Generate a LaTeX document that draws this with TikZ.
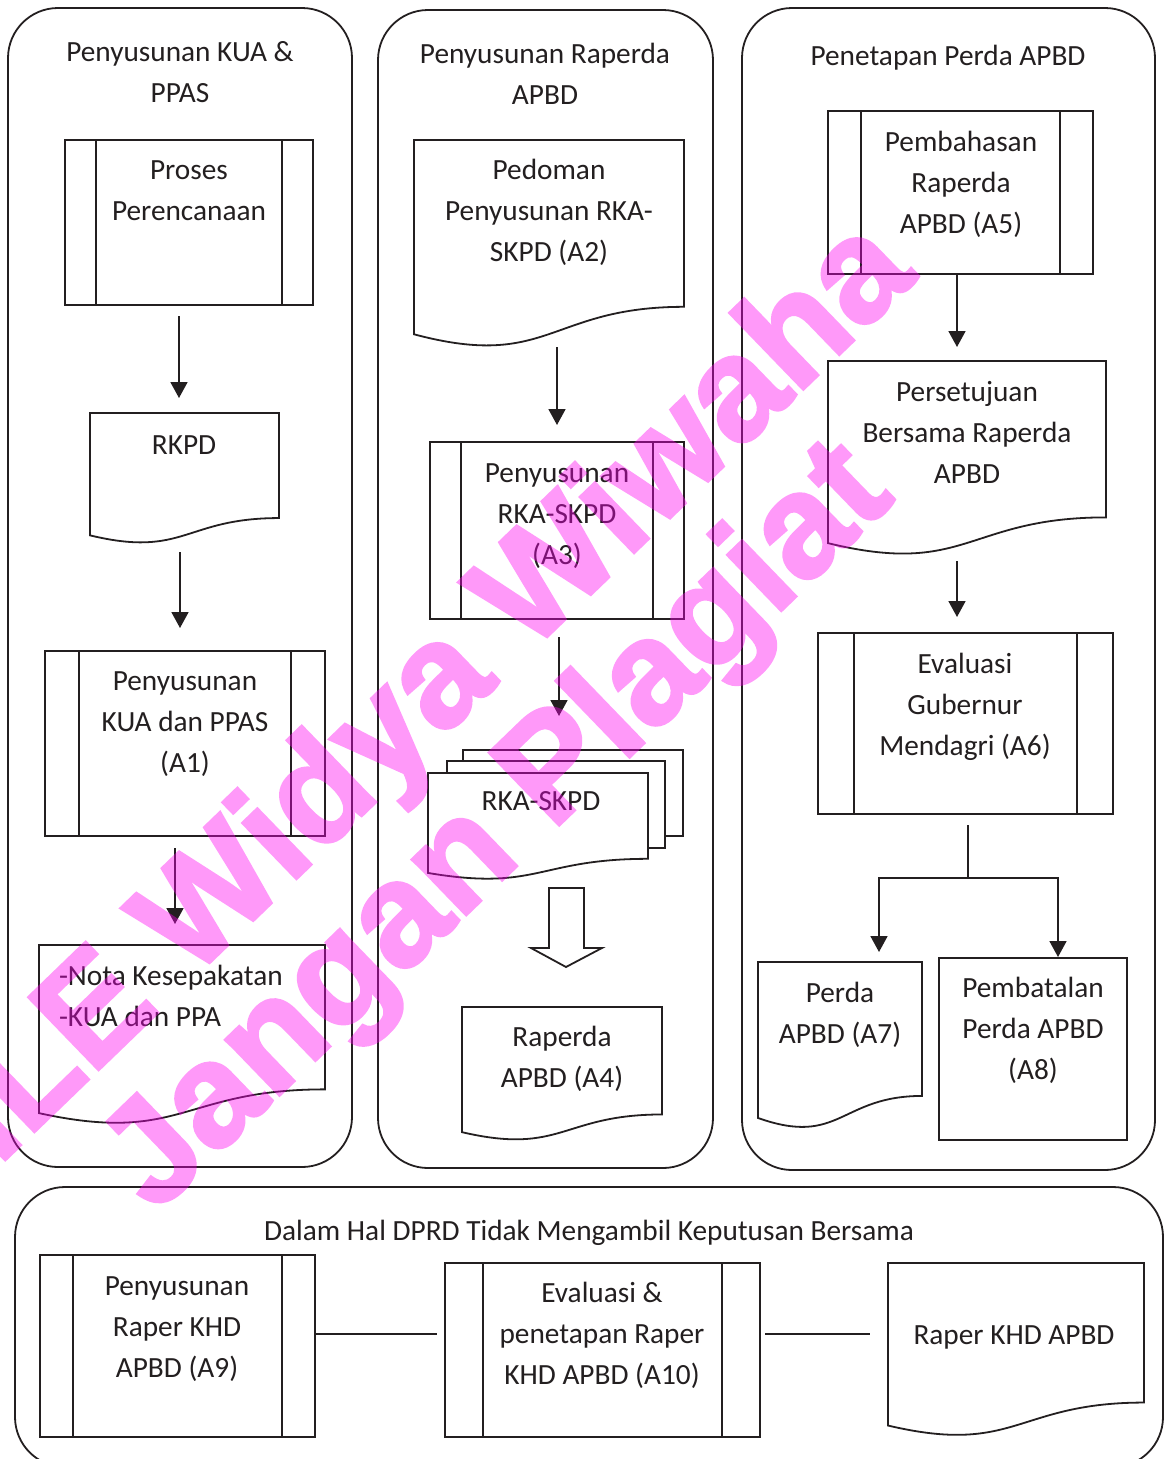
\documentclass[tikz,border=0pt]{standalone}
\usepackage{fontspec}
\setmainfont{Carlito}
\newfontfamily\wmfont{Liberation Sans Bold}[FakeBold=2.2]
\usetikzlibrary{calc,arrows.meta}
\definecolor{ink}{HTML}{231F20}
\definecolor{wmpink}{RGB}{255,0,240}

% predefined process box: name, x, y, width, height, inset
\newcommand{\procbox}[6]{%
	\node[shapebox, minimum width=#4pt, minimum height=#5pt] (#1) at (#2,#3) {};
	\draw[shapeline] ($(#1.north west)+(#6,0)$) -- ($(#1.south west)+(#6,0)$);
	\draw[shapeline] ($(#1.north east)+(-#6,0)$) -- ($(#1.south east)+(-#6,0)$);
}
% document box with wavy bottom: name, x, y, width, height
\newcommand{\docbox}[5]{%
	\node[anchor=north west, minimum width=#4pt, minimum height=#5pt, inner sep=0pt] (#1) at (#2,#3) {};
	\draw[shapeline, fill=white] (#1.north west) -- (#1.north east)
		-- ($(#1.north east)!0.802!(#1.south east)$)
		.. controls ($(#1.north)!0.802!(#1.south)$) and ($(#1.north)!1.108!(#1.south)$)
		.. ($(#1.north west)!0.934!(#1.south west)$) -- cycle;
}

\begin{document}
\begin{tikzpicture}[x=1pt, y=-1pt,
		every node/.style={outer sep=0pt},
		lane/.style={draw=ink, line width=1.8pt, rounded corners=50pt, anchor=north west, inner sep=0pt},
		shapeline/.style={draw=ink, line width=1.8pt},
		shapebox/.style={shapeline, anchor=north west, inner sep=0pt},
		txt/.style={font=\fontsize{29.3}{41}\selectfont, align=center, inner sep=0pt, anchor=north, text=ink, yshift=-2pt},
		arr/.style={draw=ink, line width=1.8pt, -{Stealth[inset=0pt, length=16pt, width=17pt]}},
		wm/.style={font=\wmfont\fontsize{146}{150}\selectfont, text=wmpink, rotate=44}]
		\useasboundingbox (0,0) rectangle (1168,1459);
		\clip (0,0) rectangle (1168,1459);
		
		% Lanes
		\node[lane, minimum width=344pt, minimum height=1159pt] (lane1) at (8,8) {};
		\node[lane, minimum width=335pt, minimum height=1158pt] (lane2) at (378,10) {};
		\node[lane, minimum width=413pt, minimum height=1162pt] (lane3) at (742,8) {};
		\node[lane, minimum width=1148pt, minimum height=280pt] (lane4) at (15,1187) {};
		\node[txt] (t1) at (180,31) {\strut Penyusunan KUA \&\\PPAS};
		\node[txt] (t2) at (545,33) {\strut Penyusunan Raperda\\APBD};
		\node[txt] (t3) at (948,35) {\strut Penetapan Perda APBD};
		\node[txt] (t4) at (589,1210) {\strut Dalam Hal DPRD Tidak Mengambil Keputusan Bersama};
		
		% Penyusunan KUA & PPAS
		\procbox{proses}{65}{140}{248}{165}{31}
		\node[txt] (t-proses) at (189,149) {\strut Proses\\Perencanaan};
		\docbox{rkpd}{90}{413}{189}{131}
		\node[txt] (t-rkpd) at (184,424) {\strut RKPD};
		\procbox{a1}{45}{651}{280}{185}{34}
		\node[txt] (t-a1) at (185,660) {\strut Penyusunan\\KUA dan PPAS\\(A1)};
		\docbox{nota}{39}{945}{286}{180}
		\node[txt, align=left, anchor=north west] (t-nota) at (59,955) {\strut -Nota Kesepakatan\\-KUA dan PPA};
		\draw[arr] ($(proses.south)+(-10,11)$) -- ($(rkpd.north)+(-5.5,-15)$);
		\draw[arr] ($(rkpd.south)+(-4.5,8)$) -- ($(a1.north)+(-5,-23)$);
		\draw[arr] ($(a1.south)+(-10,12)$) -- ($(nota.north)+(-7,-21)$);
		
		% Penyusunan Raperda APBD
		\docbox{pedoman}{414}{140}{270}{208}
		\node[txt] (t-pedoman) at (549,149) {\strut Pedoman\\Penyusunan RKA-\\SKPD (A2)};
		\procbox{a3}{430}{442}{254}{177}{31}
		\node[txt] (t-a3) at (557,452) {\strut Penyusunan\\RKA-SKPD\\(A3)};
		\node[shapebox, fill=white, minimum width=220pt, minimum height=86pt] (rka3) at (463,750) {};
		\node[shapebox, fill=white, minimum width=218pt, minimum height=87pt] (rka2) at (447,761) {};
		\docbox{rka}{428}{773}{220}{107}
		\node[txt] (t-rka) at (541,780) {\strut RKA-SKPD};
		\docbox{a4}{462}{1007}{200}{134}
		\node[txt] (t-a4) at (562,1016) {\strut Raperda\\APBD (A4)};
		\draw[arr] ($(pedoman.south)+(8,-1)$) -- ($(a3.north)+(0,-17)$);
		\draw[arr] ($(a3.south)+(2,18)$) -- ($(rka3.north)+(-14,-34)$);
		\draw[shapeline, fill=white] (549,888) -- (584,888) -- (584,948) -- (602,948)
			-- (566,967) -- (531,948) -- (549,948) -- cycle;
		
		% Penetapan Perda APBD
		\procbox{a5}{828}{111}{265}{163}{33}
		\node[txt] (t-a5) at (961,121) {\strut Pembahasan\\Raperda\\APBD (A5)};
		\docbox{pers}{828}{361}{278}{195}
		\node[txt] (t-pers) at (967,371) {\strut Persetujuan\\Bersama Raperda\\APBD};
		\procbox{a6}{818}{633}{295}{181}{36}
		\node[txt] (t-a6) at (965,643) {\strut Evaluasi\\Gubernur\\Mendagri (A6)};
		\docbox{a7}{758}{962}{164}{167}
		\node[txt] (t-a7) at (840,972) {\strut Perda\\APBD (A7)};
		\node[shapebox, minimum width=188pt, minimum height=182pt] (a8) at (939,958) {};
		\node[txt] (t-a8) at (1033,967) {\strut Pembatalan\\Perda APBD\\(A8)};
		\draw[arr] ($(a5.south)+(-3.5,0)$) -- ($(pers.north)+(-10,-14)$);
		\draw[arr] ($(pers.south)+(-10,5)$) -- ($(a6.north)+(-8.5,-16)$);
		\coordinate (split) at ($(a6.south)+(2.5,64)$);
		\draw[shapeline] ($(a6.south)+(2.5,11)$) -- (split);
		\draw[arr] (split) -| ($(a7.north)+(39,-10)$);
		\draw[arr] (split) -| ($(a8.north)+(25,-1)$);
		
		% Dalam hal DPRD tidak mengambil keputusan bersama
		\procbox{a9}{40}{1255}{275}{182}{33}
		\node[txt] (t-a9) at (177,1265) {\strut Penyusunan\\Raper KHD\\APBD (A9)};
		\procbox{a10}{445}{1263}{315}{174}{38}
		\node[txt] (t-a10) at (602,1272) {\strut Evaluasi \&\\penetapan Raper\\KHD APBD (A10)};
		\docbox{khd}{888}{1263}{256}{174}
		\node[txt] (t-khd) at (1014,1314) {\strut Raper KHD APBD};
		\draw[shapeline] ($(a9.east)+(-1,-12)$) -- ($(a10.west)+(-8,-16)$);
		\draw[shapeline] ($(a10.east)+(5,-16)$) -- ($(khd.west)+(-18,-16)$);
		
		% Watermark
		\begin{scope}[transparency group, opacity=0.4]
			\node[wm] (wm1) at (400,726) {FILE Widya Wiwaha};
			\node[wm] (wm2) at (500,830) {Jangan Plagiat};
		\end{scope}
	\end{tikzpicture}
\end{document}
